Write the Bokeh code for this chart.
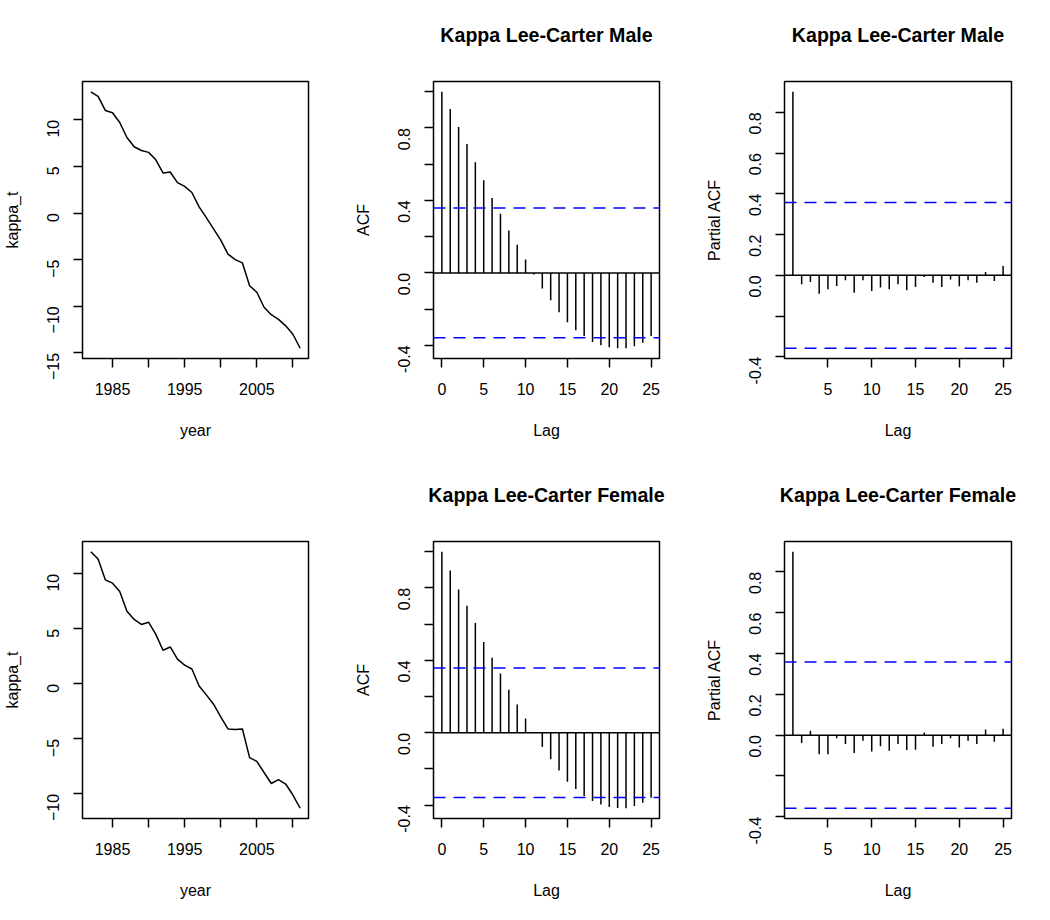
import math
from bokeh.plotting import figure
from bokeh.models import Range1d, FixedTicker, Span, PrintfTickFormatter
from bokeh.layouts import row, column
from bokeh.embed import file_html
from bokeh.resources import INLINE

# ---------------- data ----------------
years = list(range(1982, 2012))
kappa_male = [13.0, 12.5, 11.0, 10.75, 9.7, 8.1, 7.1, 6.7, 6.5, 5.7,
              4.3, 4.4, 3.25, 2.85, 2.2, 0.65, -0.5, -1.7, -2.9, -4.4,
              -5.0, -5.35, -7.8, -8.5, -10.1, -10.9, -11.4, -12.1, -13.0, -14.5]
kappa_female = [12.0, 11.35, 9.45, 9.15, 8.4, 6.6, 5.85, 5.4, 5.6, 4.5,
                3.05, 3.35, 2.25, 1.7, 1.35, -0.2, -1.0, -1.85, -3.0, -4.1,
                -4.15, -4.1, -6.7, -7.05, -8.05, -9.05, -8.7, -9.1, -10.1, -11.3]

acf_lags = list(range(0, 26))
acf_male = [1.0, 0.905, 0.806, 0.712, 0.611, 0.511, 0.414, 0.326, 0.234, 0.155,
            0.074, -0.009, -0.086, -0.151, -0.217, -0.272, -0.316, -0.349, -0.381, -0.399,
            -0.410, -0.416, -0.416, -0.405, -0.386, -0.349]
acf_female = [1.0, 0.897, 0.791, 0.702, 0.607, 0.502, 0.414, 0.327, 0.237, 0.156,
              0.079, 0.003, -0.079, -0.147, -0.208, -0.270, -0.311, -0.349, -0.377, -0.397,
              -0.410, -0.416, -0.417, -0.405, -0.386, -0.359]

pacf_lags = list(range(1, 26))
pacf_male = [0.901, -0.044, -0.033, -0.090, -0.069, -0.052, -0.024, -0.085, -0.024, -0.077,
             -0.060, -0.069, -0.044, -0.073, -0.057, -0.008, -0.036, -0.057, -0.020, -0.054,
             -0.024, -0.036, 0.016, -0.028, 0.046]
pacf_female = [0.898, -0.039, 0.021, -0.093, -0.093, -0.015, -0.044, -0.087, -0.028, -0.080,
               -0.055, -0.077, -0.044, -0.073, -0.072, 0.013, -0.057, -0.044, -0.015, -0.060,
               -0.028, -0.044, 0.028, -0.033, 0.031]

ci_bound = 0.358

title_male = "Kappa Lee-Carter Male"
title_female = "Kappa Lee-Carter Female"

year_ticks = [1985, 1990, 1995, 2000, 2005, 2010]
year_hidden = [1990, 2000, 2010]
acf_x_ticks = [0, 5, 10, 15, 20, 25]
pacf_x_ticks = [5, 10, 15, 20, 25]
acf_y_ticks = [-0.4, -0.2, 0.0, 0.2, 0.4, 0.6, 0.8, 1.0]
acf_y_hidden = [-0.2, 0.2, 0.6, 1.0]
pacf_y_ticks = [-0.4, -0.2, 0.0, 0.2, 0.4, 0.6, 0.8]
pacf_y_hidden = [-0.2]

FONT = "Liberation Sans"
LW = 1.5


def rng(vals, extra=()):
    lo = min(list(vals) + list(extra))
    hi = max(list(vals) + list(extra))
    d = (hi - lo) * 0.04
    return Range1d(lo - d, hi + d)


def make_fig(xr, yr, left, right, top, bottom, fw, fh, title=None):
    kw = dict(frame_width=fw, frame_height=fh, x_range=xr, y_range=yr,
              output_backend="svg", toolbar_location=None,
              min_border_left=left, min_border_right=right,
              min_border_top=top, min_border_bottom=bottom,
              background_fill_color="white", border_fill_color="white")
    p = figure(**kw)
    if title:
        # a blank second line lifts the title further from the frame
        p.title.text = title + "\n "
        p.title.align = "center"
        p.title.vertical_align = "top"
        p.title.text_font = FONT
        p.title.text_font_size = "19.6px"
        p.title.text_font_style = "bold"
        p.title.text_color = "black"
        p.title.standoff = 24
    p.grid.visible = False
    p.outline_line_color = "black"
    p.outline_line_width = LW
    for ax in (p.xaxis[0], p.yaxis[0]):
        ax.axis_line_color = None
        ax.major_tick_out = 9
        ax.major_tick_in = 0
        ax.major_tick_line_width = LW
        ax.major_tick_line_color = "black"
        ax.minor_tick_line_color = None
        ax.major_label_text_font = FONT
        ax.major_label_text_font_size = "16px"
        ax.major_label_text_color = "black"
        ax.axis_label_text_font = FONT
        ax.axis_label_text_font_size = "16px"
        ax.axis_label_text_font_style = "normal"
        ax.axis_label_text_color = "black"
    p.xaxis[0].major_label_standoff = 15
    p.xaxis[0].axis_label_standoff = 24
    p.yaxis[0].major_label_standoff = 20
    p.yaxis[0].axis_label_standoff = 18
    p.yaxis[0].major_label_orientation = math.pi / 2
    return p


def kappa_panel(vals, left, right, top, bottom, fw, fh):
    p = make_fig(rng(years), rng(vals), left, right, top, bottom, fw, fh)
    p.line(years, vals, line_color="black", line_width=LW)
    p.xaxis[0].ticker = FixedTicker(ticks=year_ticks)
    p.xaxis[0].major_label_overrides = {float(t): "" for t in year_hidden}
    p.yaxis[0].ticker = FixedTicker(ticks=[-15, -10, -5, 0, 5, 10])
    p.xaxis[0].axis_label = "year"
    p.yaxis[0].axis_label = "kappa_t"
    return p


def acf_panel(vals, title, left, right, top, bottom, fw, fh):
    p = make_fig(rng(acf_lags), rng(vals, (-ci_bound, ci_bound)), left, right, top, bottom,
                 fw, fh, title=title)
    p.add_layout(Span(location=0, dimension="width", line_color="black", line_width=LW))
    p.segment(x0=acf_lags, y0=[0] * len(acf_lags), x1=acf_lags, y1=vals,
              line_color="black", line_width=LW)
    for c in (ci_bound, -ci_bound):
        p.add_layout(Span(location=c, dimension="width", line_color="#0000FF",
                          line_width=LW, line_dash="12 8"))
    p.xaxis[0].ticker = FixedTicker(ticks=acf_x_ticks)
    p.yaxis[0].ticker = FixedTicker(ticks=acf_y_ticks)
    p.yaxis[0].formatter = PrintfTickFormatter(format="%.1f")
    p.yaxis[0].major_label_overrides = {t: "" for t in acf_y_hidden}
    p.xaxis[0].axis_label = "Lag"
    p.yaxis[0].axis_label = "ACF"
    return p


def pacf_panel(vals, title, left, right, top, bottom, fw, fh):
    p = make_fig(rng(pacf_lags), rng(vals, (-ci_bound, ci_bound)), left, right, top, bottom,
                 fw, fh, title=title)
    p.add_layout(Span(location=0, dimension="width", line_color="black", line_width=LW))
    p.segment(x0=pacf_lags, y0=[0] * len(pacf_lags), x1=pacf_lags, y1=vals,
              line_color="black", line_width=LW)
    for c in (ci_bound, -ci_bound):
        p.add_layout(Span(location=c, dimension="width", line_color="#0000FF",
                          line_width=LW, line_dash="12 8"))
    p.xaxis[0].ticker = FixedTicker(ticks=pacf_x_ticks)
    p.yaxis[0].ticker = FixedTicker(ticks=pacf_y_ticks)
    p.yaxis[0].formatter = PrintfTickFormatter(format="%.1f")
    p.yaxis[0].major_label_overrides = {t: "" for t in pacf_y_hidden}
    p.xaxis[0].axis_label = "Lag"
    p.yaxis[0].axis_label = "Partial ACF"
    return p


FH = 277
p1 = kappa_panel(kappa_male, 81, 43, 81, 102, 226, FH)
p2 = acf_panel(acf_male, title_male, 81, 43, 81, 102, 226, FH)
p3 = pacf_panel(pacf_male, title_male, 81, 38, 81, 102, 227, FH)
p4 = kappa_panel(kappa_female, 81, 43, 81, 96, 226, FH)
p5 = acf_panel(acf_female, title_female, 81, 43, 81, 96, 226, FH)
p6 = pacf_panel(pacf_female, title_female, 81, 38, 81, 96, 227, FH)

layout = column(row(p1, p2, p3, spacing=0), row(p4, p5, p6, spacing=0), spacing=0)

open("out.html", "w").write(file_html(layout, INLINE))
